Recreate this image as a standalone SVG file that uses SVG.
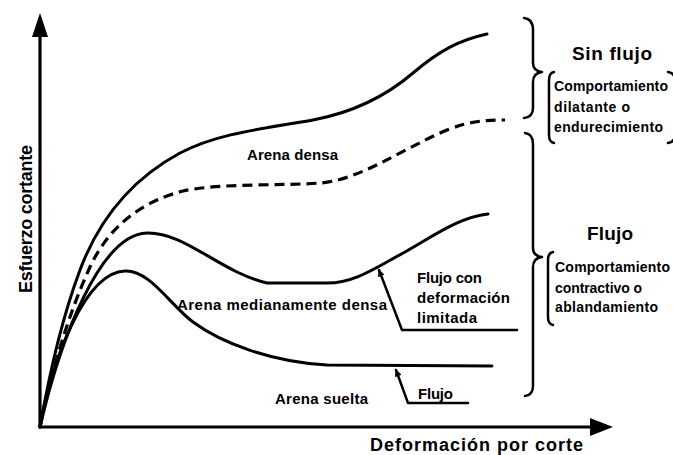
<svg xmlns="http://www.w3.org/2000/svg" width="673" height="455" viewBox="0 0 673 455">
<style>
.c{fill:none;stroke:#000;stroke-width:3;stroke-linecap:round;stroke-linejoin:round}
.d{fill:none;stroke:#000;stroke-width:3.2;stroke-dasharray:10 6}
.b{fill:none;stroke:#000;stroke-width:2.5;stroke-linecap:round;stroke-linejoin:round}
.t{font-family:"Liberation Sans",Arial,sans-serif;font-weight:bold;fill:#000}
.s15{font-size:15px}
.s14{font-size:14px}
.s19{font-size:19px}
</style>
<defs>
<marker id="ah" viewBox="0 0 10 10" refX="9" refY="5" markerWidth="8" markerHeight="7" markerUnits="userSpaceOnUse" orient="auto">
<path d="M0,0 L10,5 L0,10 Z" fill="#000"/>
</marker>
</defs>
<rect width="673" height="455" fill="#fff"/>
<g id="axes">
<line x1="40" y1="427" x2="40" y2="34" stroke="#000" stroke-width="3.2"/>
<polygon points="40,13 32,37 48,37" fill="#000"/>
<line x1="39" y1="427" x2="592" y2="427" stroke="#000" stroke-width="3.2"/>
<polygon points="613,427 590,418 590,436" fill="#000"/>
<text class="t" style="font-size:18px" x="370" y="451" textLength="213">Deformación por corte</text>
<text class="t" style="font-size:18px" transform="translate(32,219) rotate(-90)" text-anchor="middle" textLength="148">Esfuerzo cortante</text>
</g>
<g id="curves">
<path id="densa" class="c" d="M40,427 C50,370 62,318 80,270 C98,222 130,180 180,153 C220,132 270,128 313,120 C350,113 385,97 413,73 C440,50 460,40 487,34"/>
<path id="densa-dashed" class="d" d="M40,427 C52,370 68,315 90,267 C108,228 140,202 183,191 C220,183 280,186 320,183 C360,180 400,150 447,130 C470,121 485,120 505,120"/>
<path id="media" class="c" d="M40,427 C60,340 100,234 147,233 C185,232 220,272 267,283 L327,283 C355,283 375,268 405,252 C435,235 460,217 488,214"/>
<path id="suelta" class="c" d="M40,427 C52,360 85,272 125,271 C150,270 170,305 193,322 C220,342 270,362 327,365 L492,366"/>
</g>
<g id="connectors">
<path class="b" d="M517,330 L402,330 L379,270" marker-end="url(#ah)"/>
<path class="b" d="M468,403 L408,403 L396,370" marker-end="url(#ah)"/>
</g>
<g id="braces">
<path class="b" d="M524,18 Q533,19 533,30 L533,63 Q533,71 542,72 Q533,73 533,82 L533,108 Q533,117 524,118"/>
<path class="b" d="M525,133 Q533,134 533,144 L533,248 Q533,256 542,257 Q533,258 533,267 L533,386 Q533,395 525,396"/>
<path class="b" d="M554,72 Q549,73 549,80 L549,135 Q549,142 554,143"/>
<path class="b" d="M668,72 Q675,73 675,80 L675,135 Q675,142 668,143"/>
<path class="b" d="M553,252 Q548,253 548,260 L548,317 Q548,324 553,325"/>
</g>
<g id="label-arena-densa"><text class="t s15" x="247" y="160" textLength="91">Arena densa</text></g>
<g id="label-arena-media"><text class="t s15" x="177" y="310" textLength="210">Arena medianamente densa</text></g>
<g id="label-arena-suelta"><text class="t s15" x="275" y="404" textLength="93">Arena suelta</text></g>
<g id="label-flujo-limitada">
<text class="t s15" x="417" y="283" textLength="65">Flujo con</text>
<text class="t s15" x="417" y="303" textLength="93">deformación</text>
<text class="t s15" x="417" y="323" textLength="60">limitada</text>
</g>
<g id="label-flujo-small"><text class="t s15" x="418" y="399" textLength="35">Flujo</text></g>
<g id="label-sin-flujo">
<text class="t s19" x="572" y="60" textLength="80">Sin flujo</text>
<text class="t s14" x="554" y="91" textLength="114">Comportamiento</text>
<text class="t s14" x="554" y="112" textLength="76">dilatante o</text>
<text class="t s14" x="554" y="132" textLength="109">endurecimiento</text>
</g>
<g id="label-flujo">
<text class="t s19" x="587" y="240" textLength="46">Flujo</text>
<text class="t s14" x="555" y="272" textLength="115">Comportamiento</text>
<text class="t s14" x="555" y="293" textLength="87">contractivo o</text>
<text class="t s14" x="555" y="312" textLength="103">ablandamiento</text>
</g>
</svg>
